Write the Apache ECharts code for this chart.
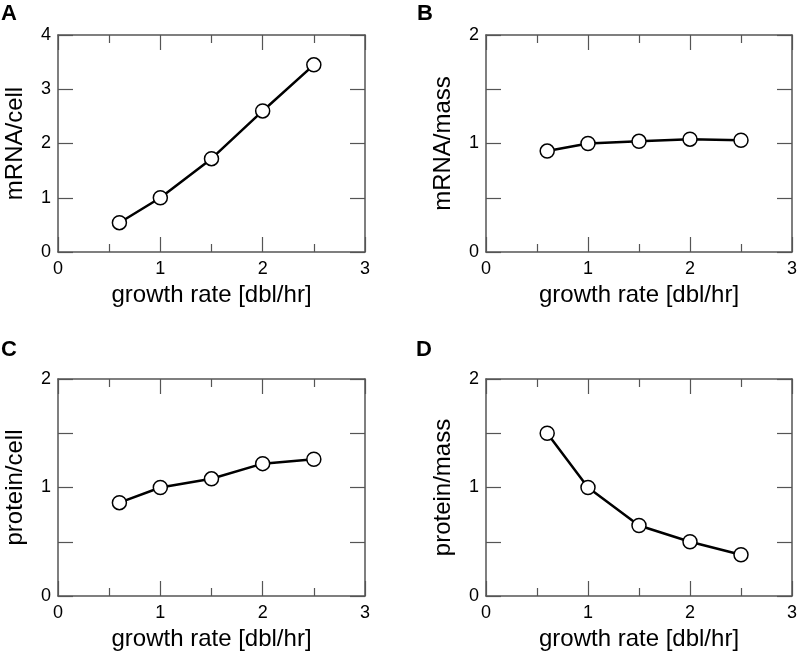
<!DOCTYPE html>
<html>
<head>
<meta charset="utf-8">
<script src="https://cdn.jsdelivr.net/npm/echarts@6/dist/echarts.min.js"></script>
<style>
  html, body { margin: 0; padding: 0; background: #fff; }
  #main { width: 800px; height: 654px; }
</style>
</head>
<body>
<div id="main"></div>
<script>
// data
var growthRate = [0.6, 1, 1.5, 2, 2.5];
var mrnaPerCell = [0.54, 1.0, 1.72, 2.6, 3.45];
var mrnaPerMass = [0.93, 1.0, 1.02, 1.04, 1.03];
var proteinPerCell = [0.86, 1.0, 1.08, 1.22, 1.26];
var proteinPerMass = [1.5, 1.0, 0.65, 0.5, 0.38];

var panelLetters = ["A", "B", "C", "D"];
var yNames = ["mRNA/cell", "mRNA/mass", "protein/cell", "protein/mass"];
var yMax = [4, 2, 2, 2];
var yStep = [1, 0.5, 0.5, 0.5];
var xName = "growth rate [dbl/hr]";
var panelValues = [mrnaPerCell, mrnaPerMass, proteinPerCell, proteinPerMass];

var font = "'Liberation Sans', Arial, Helvetica, sans-serif";
var axisColor = "#555";

var grids = [
  { left: 58, top: 35, width: 307, height: 217 },
  { left: 486, top: 35, width: 307, height: 217 },
  { left: 58, top: 379, width: 307, height: 217 },
  { left: 486, top: 379, width: 307, height: 217 }
];
// where the panel letters sit
var letterPos = [[1, 3], [417, 3], [1, 339], [416, 339]];

function intOnly(v) {
  return Math.abs(v - Math.round(v)) < 1e-6 ? String(Math.round(v)) : "";
}

var xAxes = [], yAxes = [], series = [], graphics = [];

for (var i = 0; i < 4; i++) {
  // bottom x axis with labels
  xAxes.push({
    gridIndex: i, type: "value", position: "bottom",
    min: 0, max: 3, interval: 1,
    name: xName, nameLocation: "middle", nameGap: 31,
    nameTextStyle: { fontSize: 24, color: "#000", fontFamily: font },
    axisLine: { onZero: false, lineStyle: { color: axisColor, width: 1.5 } },
    axisTick: { inside: true, length: 15, lineStyle: { color: axisColor, width: 1.2 } },
    minorTick: { show: true, splitNumber: 2, length: 8, lineStyle: { color: axisColor, width: 1.2 } },
    axisLabel: { fontSize: 18, color: "#000", fontFamily: font, margin: 8 },
    splitLine: { show: false }
  });
  // top mirror
  xAxes.push({
    gridIndex: i, type: "value", position: "top",
    min: 0, max: 3, interval: 1,
    axisLine: { onZero: false, lineStyle: { color: axisColor, width: 1.5 } },
    axisTick: { inside: true, length: 15, lineStyle: { color: axisColor, width: 1.2 } },
    minorTick: { show: true, splitNumber: 2, length: 8, lineStyle: { color: axisColor, width: 1.2 } },
    axisLabel: { show: false },
    splitLine: { show: false }
  });
  // left y axis with labels
  yAxes.push({
    gridIndex: i, type: "value", position: "left",
    min: 0, max: yMax[i], interval: yStep[i],
    name: yNames[i], nameLocation: "middle", nameGap: 31,
    nameTextStyle: { fontSize: 24, color: "#000", fontFamily: font },
    axisLine: { onZero: false, lineStyle: { color: axisColor, width: 1.5 } },
    axisTick: { inside: true, length: 15, lineStyle: { color: axisColor, width: 1.2 } },
    axisLabel: { fontSize: 18, color: "#000", fontFamily: font, margin: 7, formatter: intOnly },
    splitLine: { show: false }
  });
  // right mirror
  yAxes.push({
    gridIndex: i, type: "value", position: "right",
    min: 0, max: yMax[i], interval: yStep[i],
    axisLine: { onZero: false, lineStyle: { color: axisColor, width: 1.5 } },
    axisTick: { inside: true, length: 15, lineStyle: { color: axisColor, width: 1.2 } },
    axisLabel: { show: false },
    splitLine: { show: false }
  });

  var pts = [];
  for (var k = 0; k < growthRate.length; k++) {
    pts.push([growthRate[k], panelValues[i][k]]);
  }
  series.push({
    type: "line",
    xAxisIndex: i * 2, yAxisIndex: i * 2,
    data: pts,
    symbol: "circle", symbolSize: 14, showAllSymbol: true,
    lineStyle: { color: "#000", width: 2.5 },
    itemStyle: { color: "#fff", borderColor: "#000", borderWidth: 1.5 },
    emphasis: { disabled: true }
  });

  graphics.push({
    type: "text",
    left: letterPos[i][0],
    top: letterPos[i][1],
    style: { text: panelLetters[i], font: "bold 22px " + font, fill: "#000" }
  });
}

var myChart = echarts.init(document.getElementById("main"));
myChart.setOption({
  animation: false,
  backgroundColor: "#fff",
  grid: grids,
  xAxis: xAxes,
  yAxis: yAxes,
  series: series,
  graphic: graphics
});
</script>
</body>
</html>
